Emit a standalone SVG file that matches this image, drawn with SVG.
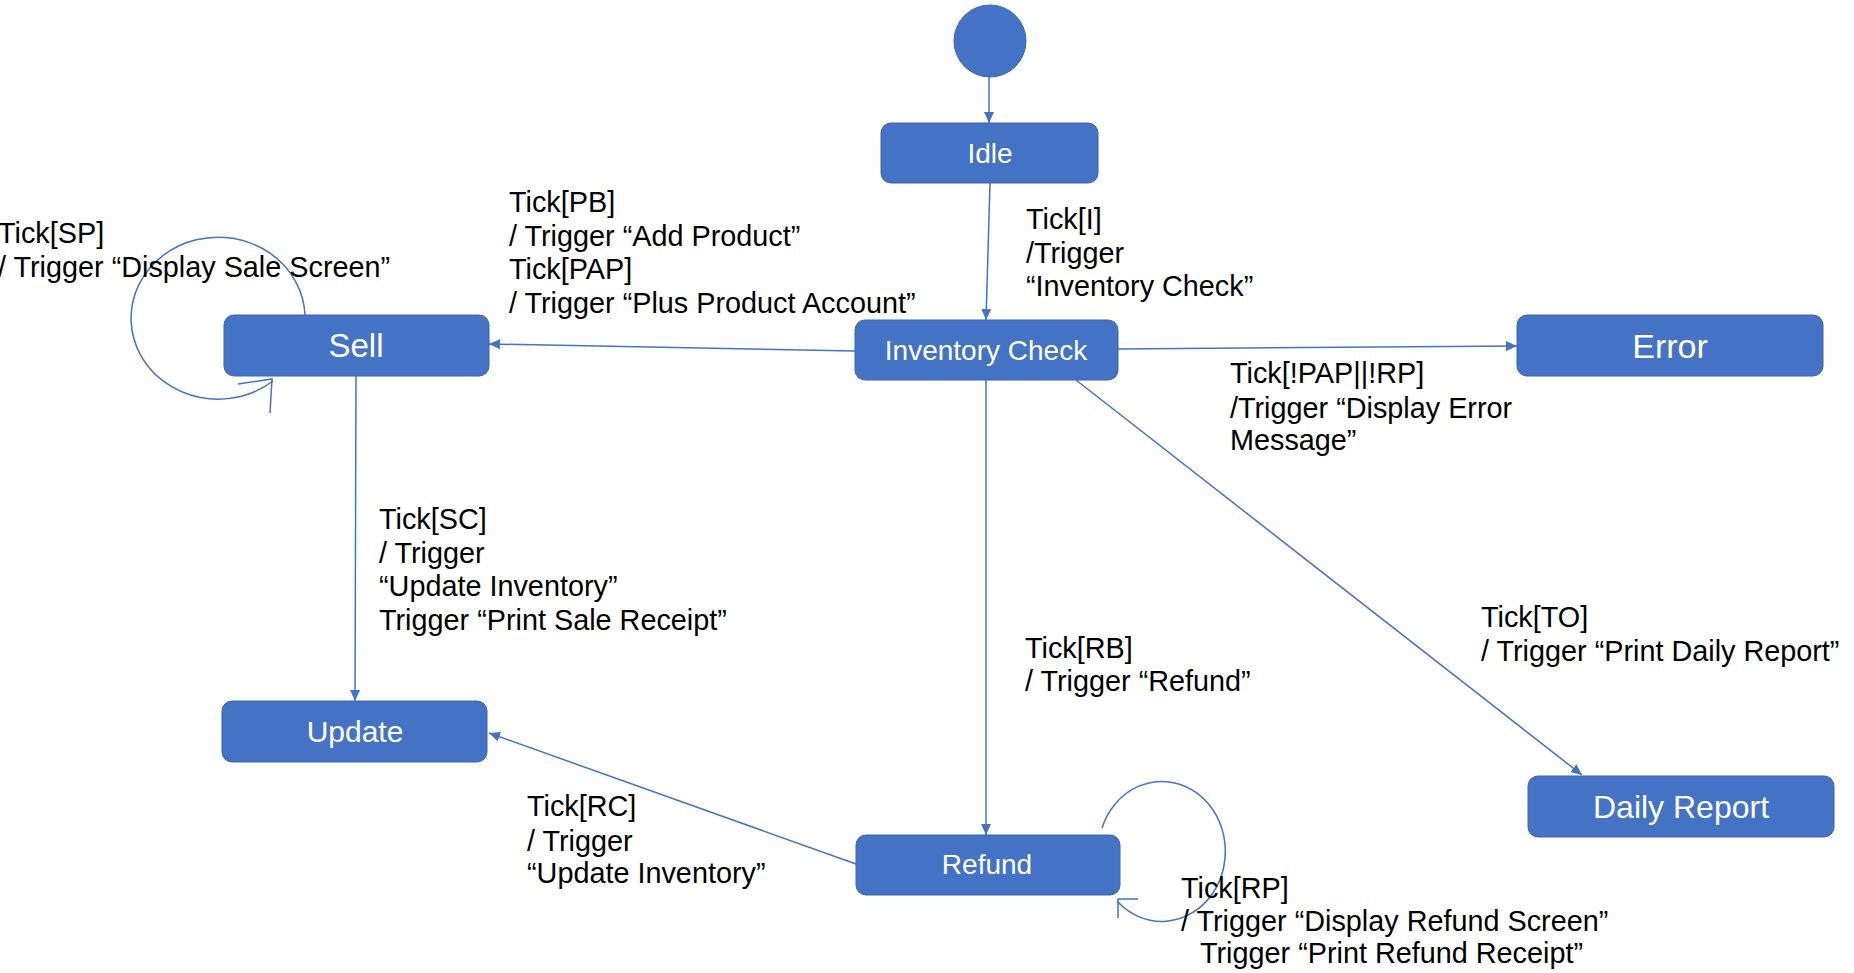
<svg xmlns="http://www.w3.org/2000/svg" width="1854" height="973" viewBox="0 0 1854 973">
<style>
.node{fill:#4472C4;stroke:#3A64B0;stroke-width:1}
.ntext{font-family:"Liberation Sans",Arial,sans-serif;fill:#FFFFFF;text-anchor:middle}
.conn{fill:none;stroke:#4472C4;stroke-width:1.5}
.lbl{font-family:"Liberation Sans",Arial,sans-serif;font-size:28.8px;fill:#000000}
</style>
<defs>
<marker id="arr" viewBox="0 0 11 10" refX="11" refY="5" markerWidth="11" markerHeight="10" markerUnits="userSpaceOnUse" orient="auto">
<path d="M0,0 L11,5 L0,10 z" fill="#4472C4"/>
</marker>
</defs>
<rect width="1854" height="973" fill="#FFFFFF"/>

<g id="connectors">
<line class="conn" x1="989" y1="77" x2="989" y2="123" marker-end="url(#arr)"/>
<line class="conn" x1="990" y1="183" x2="986" y2="320" marker-end="url(#arr)"/>
<line class="conn" x1="855" y1="351" x2="489" y2="344" marker-end="url(#arr)"/>
<line class="conn" x1="1118" y1="349" x2="1517" y2="346" marker-end="url(#arr)"/>
<line class="conn" x1="986" y1="380" x2="986" y2="835" marker-end="url(#arr)"/>
<line class="conn" x1="1076" y1="380" x2="1582" y2="775" marker-end="url(#arr)"/>
<line class="conn" x1="356" y1="376" x2="355" y2="701" marker-end="url(#arr)"/>
<line class="conn" x1="856" y1="864" x2="489" y2="733" marker-end="url(#arr)"/>
<path class="conn" d="M305,315 A87,81 0 1 0 273,381"/>
<polyline class="conn" points="238,384 272,379 270,413"/>
<path class="conn" d="M1102,828 A63.5,70 0 1 1 1117,901"/>
<polyline class="conn" points="1138,899 1118,899 1118,918"/>
</g>

<g id="start">
<circle cx="990" cy="41" r="36" fill="#4472C4" stroke="#3A64B0" stroke-width="1"/>
</g>
<g id="idle">
<rect class="node" x="881" y="123" width="217" height="60" rx="10"/>
<text class="ntext" x="990" y="163" font-size="28">Idle</text>
</g>
<g id="inventory-check">
<rect class="node" x="855" y="320" width="263" height="60" rx="10"/>
<text class="ntext" x="986" y="360" font-size="28">Inventory Check</text>
</g>
<g id="sell">
<rect class="node" x="224" y="315" width="265" height="61" rx="10"/>
<text class="ntext" x="356" y="357" font-size="33">Sell</text>
</g>
<g id="error">
<rect class="node" x="1517" y="315" width="306" height="61" rx="10"/>
<text class="ntext" x="1670" y="358" font-size="34">Error</text>
</g>
<g id="update">
<rect class="node" x="222" y="701" width="265" height="61" rx="10"/>
<text class="ntext" x="355" y="742" font-size="30">Update</text>
</g>
<g id="refund">
<rect class="node" x="856" y="835" width="264" height="60" rx="10"/>
<text class="ntext" x="987" y="874" font-size="28">Refund</text>
</g>
<g id="daily-report">
<rect class="node" x="1528" y="776" width="306" height="61" rx="10"/>
<text class="ntext" x="1681" y="818" font-size="32">Daily Report</text>
</g>

<g id="labels">
<text class="lbl"><tspan x="-2" y="243">Tick[SP]</tspan><tspan x="-2" y="277">/ Trigger “Display Sale Screen”</tspan></text>
<text class="lbl"><tspan x="509" y="212">Tick[PB]</tspan><tspan x="509" y="246">/ Trigger “Add Product”</tspan><tspan x="509" y="279">Tick[PAP]</tspan><tspan x="509" y="313">/ Trigger “Plus Product Account”</tspan></text>
<text class="lbl"><tspan x="1026" y="229">Tick[I]</tspan><tspan x="1026" y="263">/Trigger</tspan><tspan x="1026" y="296">“Inventory Check”</tspan></text>
<text class="lbl"><tspan x="1230" y="383">Tick[!PAP||!RP]</tspan><tspan x="1230" y="418">/Trigger “Display Error</tspan><tspan x="1230" y="450">Message”</tspan></text>
<text class="lbl"><tspan x="379" y="529">Tick[SC]</tspan><tspan x="379" y="563">/ Trigger</tspan><tspan x="379" y="596">“Update Inventory”</tspan><tspan x="379" y="630">Trigger “Print Sale Receipt”</tspan></text>
<text class="lbl"><tspan x="527" y="816">Tick[RC]</tspan><tspan x="527" y="851">/ Trigger</tspan><tspan x="527" y="883">“Update Inventory”</tspan></text>
<text class="lbl"><tspan x="1025" y="658">Tick[RB]</tspan><tspan x="1025" y="691">/ Trigger “Refund”</tspan></text>
<text class="lbl"><tspan x="1481" y="627">Tick[TO]</tspan><tspan x="1481" y="661">/ Trigger “Print Daily Report”</tspan></text>
<text class="lbl"><tspan x="1181" y="898">Tick[RP]</tspan><tspan x="1181" y="931">/ Trigger “Display Refund Screen”</tspan><tspan x="1200" y="963">Trigger “Print Refund Receipt”</tspan></text>
</g>
</svg>
